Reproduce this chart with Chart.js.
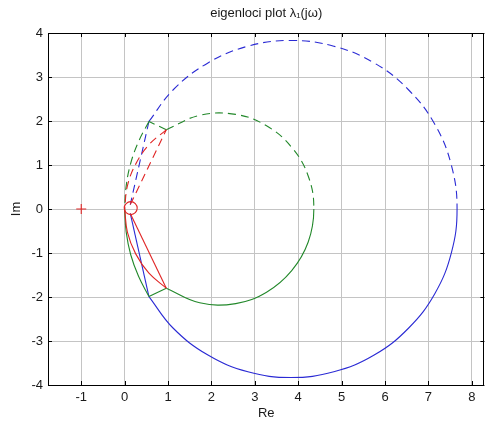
<!DOCTYPE html>
<html>
<head>
<meta charset="utf-8">
<script src="https://cdn.jsdelivr.net/npm/chart.js@4.4.1/dist/chart.umd.min.js"></script>
<style>
  html, body { margin: 0; padding: 0; background: #fff; }
  #wrap { width: 492px; height: 427px; }
</style>
</head>
<body>
<div id="wrap"><canvas id="loci" width="492" height="427"></canvas></div>
<script>
// tick labels
var xTicks = [-1, 0, 1, 2, 3, 4, 5, 6, 7, 8];
var yTicks = [-4, -3, -2, -1, 0, 1, 2, 3, 4];
var titleText = 'eigenloci plot λ₁(jω)';

// blue locus (big circle): dashed upper half, solid lower half
var blueLoop = [[0.56,1.99],[1.12,2.71],[1.92,3.32],[2.84,3.70],[3.83,3.83],[4.82,3.70],[5.75,3.32],[6.54,2.71],[7.15,1.92],[7.53,0.99],[7.66,0],
                [7.53,-0.99],[7.15,-1.92],[6.54,-2.71],[5.75,-3.32],[4.82,-3.70],[3.83,-3.83],[2.84,-3.70],[1.92,-3.32],[1.12,-2.71],[0.56,-1.99]];
var blueLowChord = [[0.56,-1.99],[0.13,-0.10]];
var blueUpChord = [[0.56,1.99],[0.13,0.10]];

// green locus (small circle)
var greenLoop = [[0.96,1.80],[1.73,2.13],[2.56,2.15],[3.27,1.89],[3.85,1.40],[4.23,0.75],[4.36,0],
                 [4.23,-0.75],[3.85,-1.40],[3.27,-1.89],[2.56,-2.15],[1.73,-2.13],[0.96,-1.80]];
var greenLowChord = [[0.96,-1.80],[0.56,-1.99]];
var greenLowTail = [[0.56,-1.99],[0.32,-1.53],[0.14,-1.04],[0.035,-0.52],[0,0]];
var greenUpChord = [[0.96,1.80],[0.56,1.99]];
var greenUpTail = [[0.56,1.99],[0.32,1.53],[0.14,1.04],[0.035,0.52],[0,0]];

// red locus (near origin)
var redLowChord = [[0.13,-0.10],[0.96,-1.80]];
var redLowTail = [[0.96,-1.80],[0.56,-1.46],[0.255,-1.02],[0.065,-0.53],[0,0]];
var redUpChord = [[0.13,0.10],[0.96,1.80]];
var redUpTail = [[0.96,1.80],[0.56,1.46],[0.255,1.02],[0.065,0.53],[0,0]];

// markers
var critPoint = [[-1, 0]];
var startPoint = [[0.14, 0.02]];

var BLUE = '#2a2ad4';
var GREEN = '#22882a';
var RED = '#e02424';
var DASH = [8, 5];

function pts(a) {
    return a.map(function(p) { return {x: p[0], y: p[1]}; });
}

function line(data, color, dashed, smooth) {
    return {
        data: pts(data),
        showLine: true,
        borderColor: color,
        backgroundColor: color,
        borderWidth: 1.1,
        borderDash: dashed ? DASH : [],
        pointRadius: 0,
        tension: smooth ? 0.4 : 0,
        fill: false
    };
}

// closed loop: upper half dashed, lower half solid
function loop(data, color) {
    var ds = line(data, color, false, true);
    ds.segment = {
        borderDash: function(c) {
            return (c.p0.parsed.y > 0.001 || c.p1.parsed.y > 0.001) ? DASH : [];
        }
    };
    return ds;
}

// box, inward ticks and title centred on the axes, like matlab
var boxPlugin = {
    id: 'box',
    afterDraw: function(chart) {
        var ctx = chart.ctx;
        var a = chart.chartArea;
        var xs = chart.scales.x, ys = chart.scales.y;
        ctx.save();
        ctx.strokeStyle = '#000';
        ctx.lineWidth = 1;
        ctx.strokeRect(Math.round(a.left) + 0.5, Math.round(a.top) + 0.5,
            Math.round(a.right - a.left) - 1, Math.round(a.bottom - a.top));
        ctx.beginPath();
        xTicks.forEach(function(v) {
            var px = Math.round(xs.getPixelForValue(v)) + 0.5;
            ctx.moveTo(px, a.bottom); ctx.lineTo(px, a.bottom - 4);
            ctx.moveTo(px, a.top); ctx.lineTo(px, a.top + 4);
        });
        yTicks.forEach(function(v) {
            var py = Math.round(ys.getPixelForValue(v)) + 0.5;
            ctx.moveTo(a.left, py); ctx.lineTo(a.left + 4, py);
            ctx.moveTo(a.right, py); ctx.lineTo(a.right - 4, py);
        });
        ctx.stroke();

        ctx.fillStyle = '#1a1a1a';
        ctx.font = '13px "Liberation Sans", Arial, sans-serif';
        ctx.textAlign = 'center';
        ctx.textBaseline = 'middle';
        ctx.fillText(titleText, (a.left + a.right) / 2, 13);
        ctx.restore();
    }
};

Chart.defaults.font.family = '"Liberation Sans", Arial, sans-serif';
Chart.defaults.font.size = 13;
Chart.defaults.color = '#1a1a1a';

var ctx = document.getElementById('loci').getContext('2d');
var lociChart = new Chart(ctx, {
    type: 'scatter',
    data: {
        datasets: [
            {
                data: pts(startPoint),
                pointStyle: 'circle',
                pointRadius: 6.5,
                borderColor: RED,
                backgroundColor: 'rgba(0,0,0,0)',
                borderWidth: 1.1
            },
            {
                data: pts(critPoint),
                pointStyle: 'cross',
                pointRadius: 5,
                borderColor: RED,
                borderWidth: 1.1
            },
            line(redLowChord, RED, false, false),
            line(redLowTail, RED, false, true),
            line(redUpChord, RED, true, false),
            line(redUpTail, RED, true, true),
            loop(greenLoop, GREEN),
            line(greenLowChord, GREEN, false, false),
            line(greenLowTail, GREEN, false, true),
            line(greenUpChord, GREEN, true, false),
            line(greenUpTail, GREEN, true, true),
            loop(blueLoop, BLUE),
            line(blueLowChord, BLUE, false, false),
            line(blueUpChord, BLUE, true, false)
        ]
    },
    options: {
        responsive: false,
        animation: false,
        layout: {
            padding: {left: 0, right: 1, top: 33, bottom: 0}
        },
        plugins: {
            legend: { display: false },
            tooltip: { enabled: false },
            title: { display: false }
        },
        scales: {
            x: {
                type: 'linear',
                min: -1.766,
                max: 8.29,
                afterBuildTicks: function(scale) {
                    scale.ticks = xTicks.map(function(v) { return {value: v}; });
                },
                afterFit: function(scale) { scale.height = 42; },
                grid: { color: '#c4c4c4', lineWidth: 1, drawTicks: false },
                border: { display: false },
                ticks: { padding: 5, maxRotation: 0 },
                title: {
                    display: true,
                    text: 'Re',
                    font: { size: 13 },
                    padding: { top: 0, bottom: 5.8 }
                }
            },
            y: {
                type: 'linear',
                min: -4,
                max: 4,
                afterBuildTicks: function(scale) {
                    scale.ticks = yTicks.map(function(v) { return {value: v}; });
                },
                afterFit: function(scale) { scale.width = 48; },
                grid: { color: '#c4c4c4', lineWidth: 1, drawTicks: false },
                border: { display: false },
                ticks: { padding: 5 },
                title: {
                    display: true,
                    text: 'Im',
                    font: { size: 13 },
                    padding: { top: 8.5, bottom: 0 }
                }
            }
        }
    },
    plugins: [boxPlugin]
});
</script>
</body>
</html>
